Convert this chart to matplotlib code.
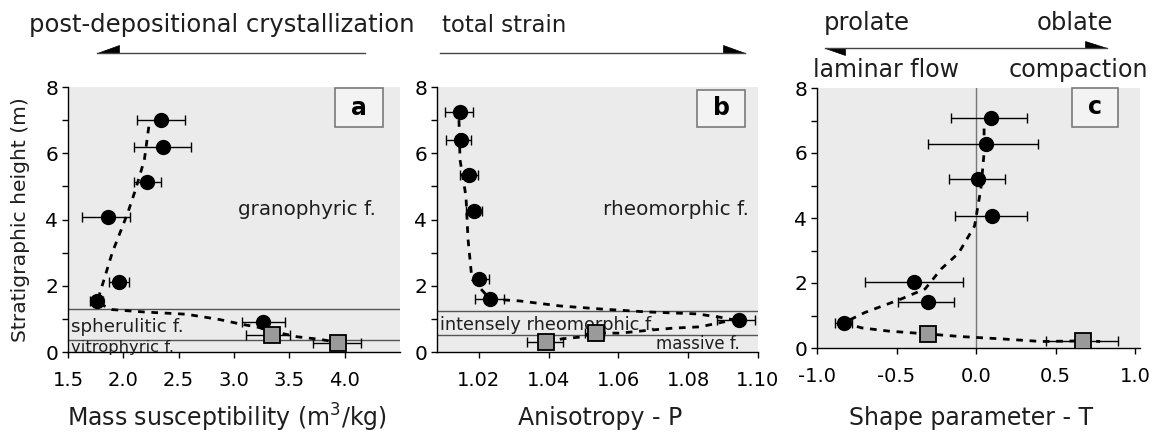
import matplotlib
matplotlib.use("Agg")
import matplotlib.pyplot as plt
from matplotlib.patches import Rectangle, Polygon
from matplotlib.lines import Line2D
import numpy as np

W, H = 1155, 434
plt.rcParams['font.family'] = ['DejaVu Sans']

# ---------------- data ----------------
# panel a: mass susceptibility
a_x = [2.34, 2.36, 2.21, 1.86, 1.96, 1.76, 3.26]
a_y = [7.01, 6.19, 5.14, 4.08, 2.11, 1.54, 0.91]
a_lo = [2.12, 2.10, 2.10, 1.63, 1.87, 1.70, 3.07]
a_hi = [2.56, 2.61, 2.34, 2.06, 2.05, 1.82, 3.46]
a_sq_x = [3.34, 3.94]
a_sq_y = [0.51, 0.27]
a_sq_lo = [3.11, 3.71]
a_sq_hi = [3.51, 4.15]
a_trend_x = [2.23, 2.19, 2.11, 2.04, 1.90, 1.79, 1.76, 1.90, 2.18, 2.57, 2.87, 3.05, 3.26, 3.42, 3.57, 3.78, 3.92]
a_trend_y = [6.80, 5.80, 4.90, 4.20, 3.00, 1.80, 1.50, 1.28, 1.21, 1.14, 0.98, 0.85, 0.72, 0.57, 0.46, 0.38, 0.30]
a_facies = [1.30, 0.36]

# panel b: anisotropy P
b_x = [1.0146, 1.0149, 1.0172, 1.0186, 1.0200, 1.0232, 1.0946]
b_y = [7.25, 6.40, 5.35, 4.26, 2.20, 1.60, 0.97]
b_lo = [1.0103, 1.0106, 1.0146, 1.0163, 1.0186, 1.0189, 1.0883]
b_hi = [1.0183, 1.0177, 1.0198, 1.0209, 1.0229, 1.0272, 1.0991]
b_sq_x = [1.0392, 1.0536]
b_sq_y = [0.30, 0.57]
b_sq_lo = [1.0338, 1.0505]
b_sq_hi = [1.0441, 1.0560]
b_trend_x = [1.0143, 1.0146, 1.0163, 1.0169, 1.0180, 1.0232, 1.0318, 1.0433, 1.0547, 1.0682,
             1.0825, 1.0891, 1.0930, 1.0834, 1.0756, 1.0680, 1.0605, 1.0536, 1.0490, 1.0440, 1.0392]
b_trend_y = [7.00, 5.80, 4.70, 3.40, 2.20, 1.60, 1.54, 1.39, 1.30, 1.21,
             1.15, 1.05, 0.97, 0.76, 0.72, 0.65, 0.57, 0.57, 0.45, 0.40, 0.30]
b_facies = [1.24, 0.50]

# panel c: shape parameter T
c_x = [0.094, 0.063, 0.013, 0.10, -0.39, -0.30, -0.83]
c_y = [7.09, 6.28, 5.20, 4.06, 2.03, 1.42, 0.78]
c_lo = [-0.16, -0.30, -0.17, -0.13, -0.70, -0.49, -0.89]
c_hi = [0.32, 0.39, 0.18, 0.32, -0.08, -0.14, -0.78]
c_sq_x = [-0.30, 0.67]
c_sq_y = [0.43, 0.22]
c_sq_lo = [-0.34, 0.44]
c_sq_hi = [-0.26, 0.89]
c_trend_x = [0.05, 0.05, 0.03, -0.01, -0.11, -0.22, -0.32, -0.47, -0.70, -0.83, -0.72, -0.55, -0.30, -0.09, 0.16, 0.41, 0.67, 0.78]
c_trend_y = [6.75, 6.00, 4.90, 3.75, 2.92, 2.43, 1.82, 1.51, 1.09, 0.78, 0.62, 0.52, 0.43, 0.35, 0.28, 0.20, 0.22, 0.20]

a_ticks = [1.5, 2.0, 2.5, 3.0, 3.5, 4.0]
a_ticklabels = ["1.5", "2.0", "2.5", "3.0", "3.5", "4.0"]
b_ticks = [1.02, 1.04, 1.06, 1.08, 1.10]
b_ticklabels = ["1.02", "1.04", "1.06", "1.08", "1.10"]
c_ticks = [-1.0, -0.5, 0.0, 0.5, 1.0]
c_ticklabels = ["-1.0", "-0.5", "0.0", "0.5", "1.0"]

# ---------------- figure ----------------
fig = plt.figure(figsize=(W / 100, H / 100), dpi=100)

def fx(x):
    return x / W

def fy(y):
    return 1 - y / H

def axes_px(left, right, top, bottom):
    return [fx(left), fy(bottom), (right - left) / W, (bottom - top) / H]

BG = '#ebebeb'
TXT = '#1e1e1e'

def style(ax, xlim, ticks, labels):
    ax.set_facecolor(BG)
    ax.set_xlim(*xlim)
    ax.set_ylim(0, 8)
    for s in ['top', 'right']:
        ax.spines[s].set_visible(False)
    for s in ['left', 'bottom']:
        ax.spines[s].set_color('black')
        ax.spines[s].set_linewidth(1.0)
    ax.set_yticks([0, 2, 4, 6, 8])
    ax.set_yticks([1, 3, 5, 7], minor=True)
    ax.set_xticks(ticks)
    ax.set_xticklabels(labels)
    ax.tick_params(axis='y', which='major', length=4, width=1, labelsize=14.5, pad=3)
    ax.tick_params(axis='y', which='minor', length=4, width=1)
    ax.tick_params(axis='x', which='major', length=4, width=1, labelsize=14, pad=10)

def draw_data(ax, x, y, lo, hi, sx, sy, slo, shi, tx, ty):
    x = np.asarray(x); lo = np.asarray(lo); hi = np.asarray(hi)
    sx = np.asarray(sx); slo = np.asarray(slo); shi = np.asarray(shi)
    ax.plot(tx, ty, linestyle=(0, (2.4, 2.4)), color='black', lw=2.0, zorder=3)
    ax.errorbar(x, y, xerr=[x - lo, hi - x], fmt='none', ecolor='black',
                elinewidth=1.0, capsize=3.5, capthick=1.0, zorder=4)
    ax.errorbar(sx, sy, xerr=[sx - slo, shi - sx], fmt='none', ecolor='black',
                elinewidth=1.0, capsize=3.5, capthick=1.0, zorder=4)
    ax.plot(x, y, 'o', ms=10, color='black', zorder=5)
    ax.plot(sx, sy, 's', ms=11, mfc='#9a9a9a', mec='black', mew=1.3, zorder=5)

def label_box(ax, x0, x1, y0, y1, letter):
    ax.add_patch(Rectangle((x0, y0), x1 - x0, y1 - y0, transform=ax.transAxes,
                           fc='#f3f3f3', ec='#7a7a7a', lw=1.2, zorder=6, clip_on=False))
    ax.text((x0 + x1) / 2, (y0 + y1) / 2, letter, transform=ax.transAxes,
            ha='center', va='center', fontsize=17, fontweight='bold', zorder=7)

def place_xlabel(ax, text, left, right, bottom, top, cx, cy=418):
    ax.set_xlabel(text, fontsize=17, color=TXT)
    ax.xaxis.set_label_coords((cx - left) / (right - left), -(cy - bottom) / (bottom - top))
    ax.xaxis.label.set_verticalalignment('center')

# panel a
axa = fig.add_axes(axes_px(68, 400, 87, 352))
style(axa, (1.5, 4.5), a_ticks, a_ticklabels)
for yv in a_facies:
    axa.axhline(yv, color='#555555', lw=1.0, zorder=2)
draw_data(axa, a_x, a_y, a_lo, a_hi, a_sq_x, a_sq_y, a_sq_lo, a_sq_hi, a_trend_x, a_trend_y)
axa.text(3.04, 4.29, "granophyric f.", fontsize=14.3, color=TXT, va='center', ha='left')
axa.text(1.53, 0.75, "spherulitic f.", fontsize=13.2, color=TXT, va='center', ha='left')
axa.text(1.53, 0.15, "vitrophyric f.", fontsize=11.8, color=TXT, va='center', ha='left')
label_box(axa, 0.804, 0.949, 0.849, 0.996, 'a')
axa.set_ylabel("Stratigraphic height (m)", fontsize=14.6, color=TXT)
axa.yaxis.set_label_coords((21 - 68) / 332, 0.5)
axa.yaxis.label.set_verticalalignment('center')
place_xlabel(axa, "Mass susceptibility (m$^3$/kg)", 68, 400, 352, 87, 227)

# panel b
axb = fig.add_axes(axes_px(437, 758, 87, 352))
style(axb, (1.008, 1.10), b_ticks, b_ticklabels)
for yv in b_facies:
    axb.axhline(yv, color='#555555', lw=1.0, zorder=2)
draw_data(axb, b_x, b_y, b_lo, b_hi, b_sq_x, b_sq_y, b_sq_lo, b_sq_hi, b_trend_x, b_trend_y)
axb.text(1.0555, 4.29, "rheomorphic f.", fontsize=14.4, color=TXT, va='center', ha='left')
axb.text(1.0090, 0.82, "intensely rheomorphic f.", fontsize=12.8, color=TXT, va='center', ha='left')
axb.text(1.0708, 0.25, "massive f.", fontsize=12, color=TXT, va='center', ha='left')
label_box(axb, 0.810, 0.960, 0.849, 0.989, 'b')
place_xlabel(axb, "Anisotropy - P", 437, 758, 352, 87, 600)

# panel c
axc = fig.add_axes(axes_px(817, 1140, 88, 348))
style(axc, (-1.0, 1.03), c_ticks, c_ticklabels)
axc.axvline(0.0, color='#777777', lw=1.0, zorder=2)
draw_data(axc, c_x, c_y, c_lo, c_hi, c_sq_x, c_sq_y, c_sq_lo, c_sq_hi, c_trend_x, c_trend_y)
label_box(axc, 0.789, 0.932, 0.850, 1.0, 'c')
place_xlabel(axc, "Shape parameter - T", 817, 1140, 348, 88, 971)

# ---------------- header annotations ----------------
def hline(x0, x1, y):
    fig.add_artist(Line2D([fx(x0), fx(x1)], [fy(y), fy(y)], transform=fig.transFigure,
                          color='#444444', lw=1.0))

def head(pts):
    fig.add_artist(Polygon([(fx(px), fy(py)) for px, py in pts], closed=True,
                           transform=fig.transFigure, fc='black', ec='black', lw=0.5))

fig.text(fx(222), fy(25), "post-depositional crystallization", fontsize=17.5,
         ha='center', va='center', color=TXT)
hline(97, 365, 53)
head([(97, 53), (119, 53), (119, 45)])

fig.text(fx(504), fy(25), "total strain", fontsize=16.5, ha='center', va='center', color=TXT)
hline(440, 745, 53)
head([(745, 53), (723, 53), (723, 45)])

fig.text(fx(867), fy(23), "prolate", fontsize=17.5, ha='center', va='center', color=TXT)
fig.text(fx(1075), fy(23), "oblate", fontsize=17.5, ha='center', va='center', color=TXT)
hline(825, 1107, 48)
head([(825, 48), (845, 48), (845, 55)])
head([(1107, 48), (1085, 48), (1085, 41)])
fig.text(fx(886), fy(70), "laminar flow", fontsize=17, ha='center', va='center', color=TXT)
fig.text(fx(1078), fy(70), "compaction", fontsize=17.2, ha='center', va='center', color=TXT)

fig.savefig("out.png", dpi=100)
